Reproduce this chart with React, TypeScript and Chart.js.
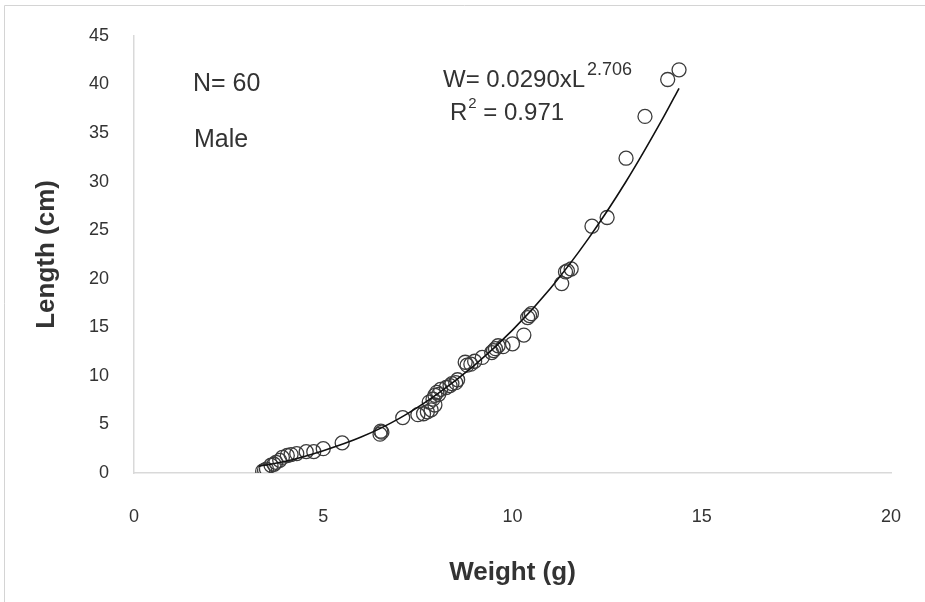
import React, { useEffect, useRef } from "react";
import { Chart, registerables } from "chart.js";

Chart.register(...registerables);

const weights = [
  3.40, 3.45, 3.50, 3.62, 3.70, 3.75, 3.85, 3.92, 4.05, 4.15,
  4.30, 4.55, 4.75, 5.00, 5.50, 6.50, 6.52, 6.55, 7.10, 7.50,
  7.65, 7.75, 7.85, 7.80, 7.90, 7.95, 7.95, 8.00, 8.05, 8.10,
  8.25, 8.35, 8.40, 8.50, 8.55, 8.75, 8.80, 8.90, 9.00, 9.20,
  9.45, 9.50, 9.55, 9.62, 9.75, 10.00, 10.30, 10.40, 10.45, 10.50,
  11.30, 11.40, 11.45, 11.55, 12.10, 12.50, 13.00, 13.50, 14.10, 14.40,
];
const lengths = [
  0.2, 0.3, 0.4, 0.8, 0.9, 1.1, 1.3, 1.6, 1.8, 1.9,
  2.0, 2.2, 2.2, 2.5, 3.1, 4.0, 4.3, 4.2, 5.7, 6.0,
  6.1, 6.3, 6.5, 7.3, 7.6, 7.0, 8.0, 8.3, 8.1, 8.6,
  8.8, 9.0, 9.2, 9.3, 9.6, 11.4, 11.1, 11.2, 11.5, 11.9,
  12.4, 12.6, 12.8, 13.1, 13.0, 13.3, 14.2, 16.0, 16.2, 16.4,
  19.5, 20.7, 20.8, 21.0, 25.4, 26.3, 32.4, 36.7, 40.5, 41.5,
];

// Fitted power trend line
const trendWeights = [3.3, 4, 5, 6, 7, 8, 9, 10, 11, 12, 13, 14, 14.4];
const trendLengths = [0.7, 1.2, 2.3, 3.7, 5.6, 8.1, 11.1, 14.7, 19.0, 24.1, 30.0, 36.7, 39.6];

const xTickValues = [0, 5, 10, 15, 20];
const yTickValues = [0, 5, 10, 15, 20, 25, 30, 35, 40, 45];

const xTitle = "Weight (g)";
const yTitle = "Length (cm)";
const countLabel = "N= 60";
const sexLabel = "Male";
const eqMain = "W= 0.0290xL";
const eqExp = "2.706";
const r2Label = "R";
const r2Sup = "2";
const r2Value = " = 0.971";

const FONT = "'Liberation Sans', Arial, sans-serif";
const TEXT = "#333333";

const overlayPlugin = {
  id: "overlay",
  afterDraw(chart: any) {
    const ctx = chart.ctx as CanvasRenderingContext2D;
    ctx.save();
    // outer frame (light gray top/left border)
    ctx.strokeStyle = "#d4d4d4";
    ctx.lineWidth = 1;
    ctx.beginPath();
    ctx.moveTo(4.5, 602);
    ctx.lineTo(4.5, 5.5);
    ctx.lineTo(925, 5.5);
    ctx.stroke();

    ctx.fillStyle = TEXT;
    ctx.textBaseline = "middle";
    ctx.textAlign = "left";
    ctx.font = `25px ${FONT}`;
    ctx.fillText(countLabel, 193, 84);
    ctx.fillText(sexLabel, 194, 140);

    // equation
    ctx.font = `24px ${FONT}`;
    ctx.fillText(eqMain, 443, 80);
    const w1 = ctx.measureText(eqMain).width;
    ctx.font = `18px ${FONT}`;
    ctx.fillText(eqExp, 443 + w1 + 2, 70);

    ctx.font = `24px ${FONT}`;
    ctx.fillText(r2Label, 450, 113);
    const wr = ctx.measureText(r2Label).width;
    ctx.font = `15px ${FONT}`;
    ctx.fillText(r2Sup, 450 + wr + 1, 104);
    const ws = ctx.measureText(r2Sup).width;
    ctx.font = `24px ${FONT}`;
    ctx.fillText(r2Value, 450 + wr + ws + 1, 113);
    ctx.restore();
  },
};

export default function App() {
  const ref = useRef<HTMLCanvasElement | null>(null);

  useEffect(() => {
    if (!ref.current) return;
    const points = weights.map((w, i) => ({ x: w, y: lengths[i] }));
    const trend = trendWeights.map((w, i) => ({ x: w, y: trendLengths[i] }));
    const chart = new Chart(ref.current, {
      type: "scatter",
      data: {
        datasets: [
          {
            type: "line",
            data: trend,
            borderColor: "#111111",
            borderWidth: 1.6,
            pointRadius: 0,
            showLine: true,
            fill: false,
            cubicInterpolationMode: "monotone",
            order: 0,
          } as any,
          {
            data: points,
            pointStyle: "circle",
            pointRadius: 7,
            pointHoverRadius: 7,
            borderColor: "#3c3c3c",
            borderWidth: 1.3,
            backgroundColor: "rgba(0,0,0,0)",
            order: 1,
          },
        ],
      },
      options: {
        responsive: false,
        animation: false,
        events: [],
        layout: { padding: { top: 34, right: 34, left: 0, bottom: 0 } },
        plugins: {
          legend: { display: false },
          tooltip: { enabled: false },
          title: { display: false },
        },
        scales: {
          x: {
            type: "linear",
            min: 0,
            max: 20,
            afterFit(scale: any) {
              scale.height = 129;
              scale.paddingRight = 0;
              scale.paddingLeft = 0;
            },
            afterBuildTicks(scale: any) {
              scale.ticks = xTickValues.map((v) => ({ value: v }));
            },
            grid: { display: false, drawTicks: false },
            border: { display: true, color: "#d9d9d9", width: 1.5 },
            ticks: {
              padding: 33,
              color: TEXT,
              font: { family: FONT, size: 18 },
            },
            title: {
              display: true,
              text: xTitle,
              color: TEXT,
              font: { family: FONT, size: 26, weight: "bold" },
              padding: { top: 0, bottom: 14 },
            },
          },
          y: {
            type: "linear",
            min: 0,
            max: 45,
            afterFit(scale: any) {
              scale.width = 134;
            },
            afterBuildTicks(scale: any) {
              scale.ticks = yTickValues.map((v) => ({ value: v }));
            },
            grid: { display: false, drawTicks: false },
            border: { display: true, color: "#d9d9d9", width: 1.5 },
            ticks: {
              padding: 25,
              color: TEXT,
              font: { family: FONT, size: 18 },
            },
            title: {
              display: true,
              text: yTitle,
              color: TEXT,
              font: { family: FONT, size: 26, weight: "bold" },
              padding: { top: 31, bottom: 0 },
            },
          },
        },
      },
      plugins: [overlayPlugin],
    });
    return () => chart.destroy();
  }, []);

  return (
    <div style={{ position: "absolute", left: 0, top: 0, width: 925, height: 602, background: "#ffffff" }}>
      <canvas ref={ref} width={925} height={602} style={{ display: "block" }} />
    </div>
  );
}
